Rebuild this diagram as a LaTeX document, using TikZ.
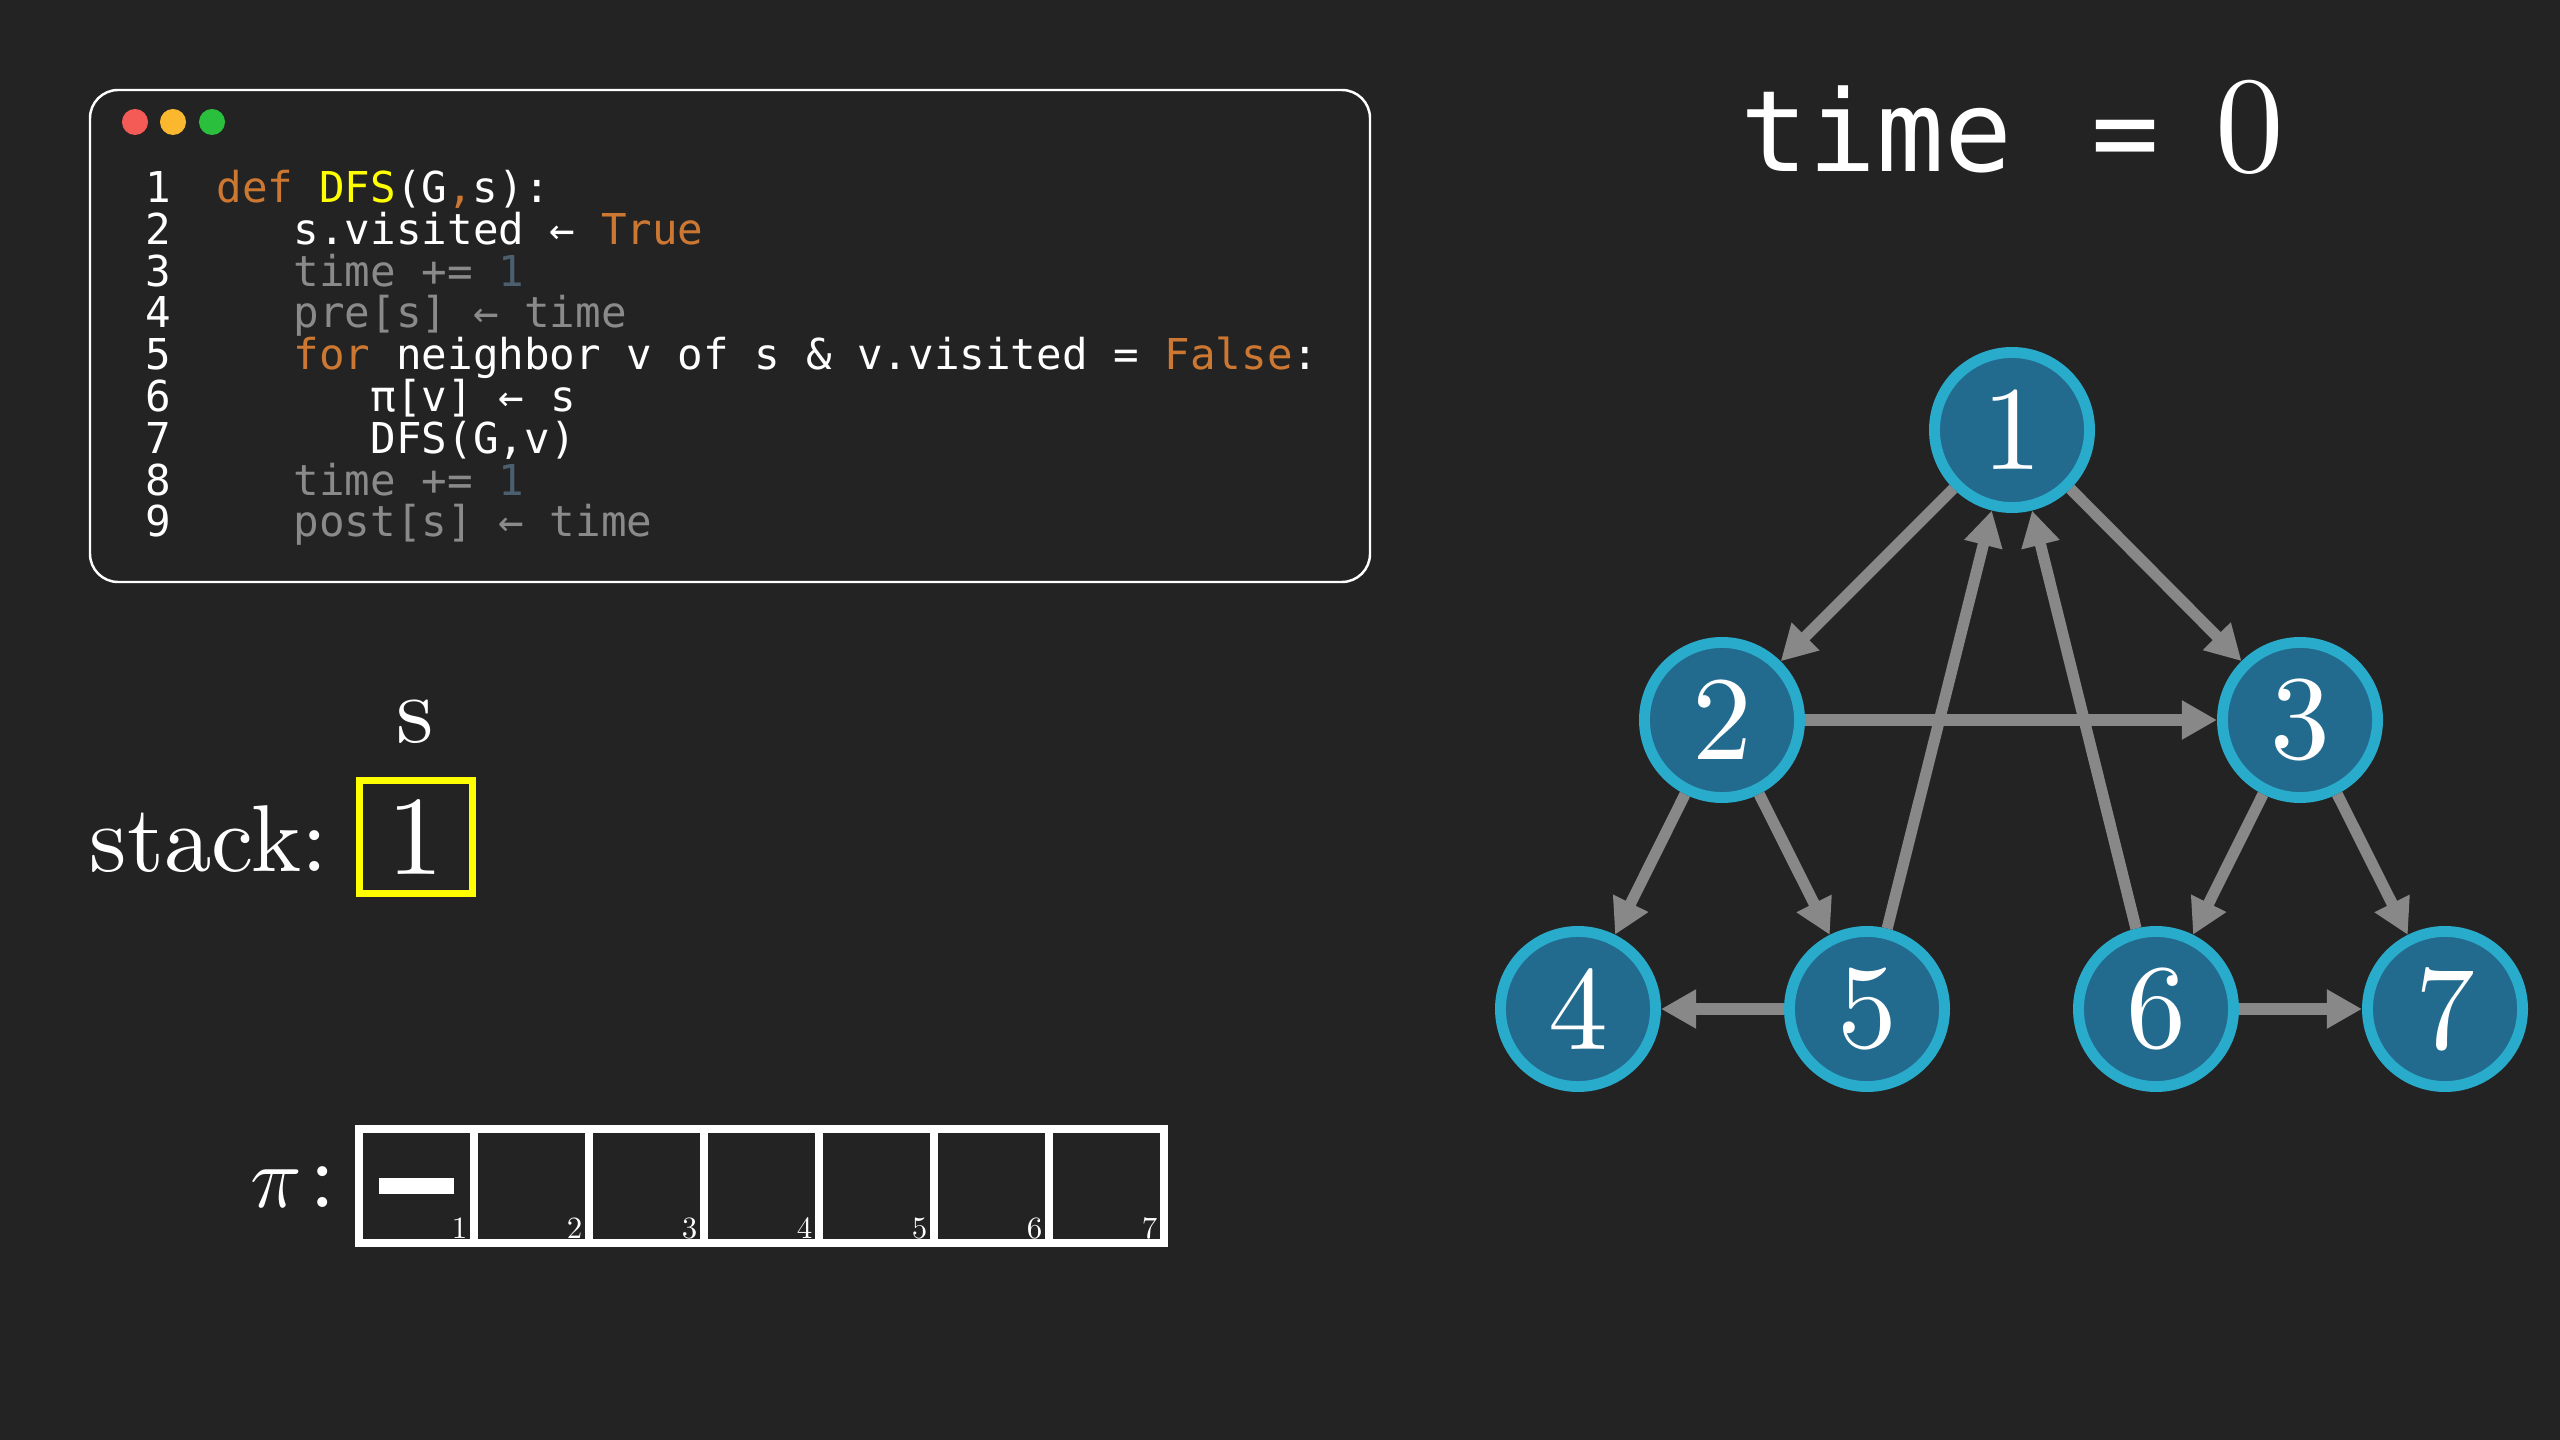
\documentclass[tikz,border=0pt]{standalone}
\usepackage{fontspec}
\setmainfont{lmroman10-regular.otf}[ItalicFont=lmroman10-italic.otf,BoldFont=lmroman10-bold.otf]
\setmonofont{DejaVu Sans Mono}
\usetikzlibrary{arrows.meta}
\definecolor{bg}{HTML}{232323}
\definecolor{kw}{HTML}{CC7832}
\definecolor{fn}{HTML}{FFFF00}
\definecolor{dim}{HTML}{8A8A8A}
\definecolor{dimnum}{HTML}{4B5F6E}
\definecolor{dotred}{HTML}{F45B56}
\definecolor{dotyel}{HTML}{FBB82E}
\definecolor{dotgrn}{HTML}{2AC03E}
\definecolor{nodefill}{HTML}{236B8E}
\definecolor{nodeedge}{HTML}{29ABCB}
\definecolor{edgegray}{HTML}{888888}
\definecolor{boxyel}{HTML}{FFFF00}
\newcommand\mycodefont{\ttfamily\fontsize{12.1}{14}\selectfont}
\begin{document}
\begin{tikzpicture}[x=0.01cm,y=-0.01cm,
  code/.style={anchor=base west, inner sep=0, text=white, font=\mycodefont},
  gnode/.style={circle, draw=nodeedge, fill=nodefill, line width=3.1pt, minimum size=44.1pt, inner sep=0, text=white, font=\fontsize{34}{40}\selectfont},
  edge/.style={draw=edgegray, line width=3.2pt, -{Triangle[length=10pt,width=10.5pt]}},
  cell/.style={draw=white, line width=2.28pt, minimum width=32.7pt, minimum height=32.4pt, inner sep=0},
  idx/.style={anchor=base east, inner sep=0, text=white, font=\fontsize{8.8}{10}\selectfont},
  big/.style={inner sep=0, text=white, font=\fontsize{27}{32}\selectfont}
]
\fill[bg] (0,0) rectangle (2560,1440);
\useasboundingbox (0,0) rectangle (2560,1440);

% code window
\draw[white, line width=0.7pt, rounded corners=8pt] (90,90) rectangle (1370,582);
\fill[dotred] (135,122) circle (0.13cm);
\fill[dotyel] (173,122) circle (0.13cm);
\fill[dotgrn] (212,122) circle (0.13cm);

\foreach \n [count=\i from 0] in {1,...,9}
  \node[code] (ln\n) at (145,{202.5+41.8*\i}) {\n};

\node[code] (l1) at (216,202.5) {\textcolor{kw}{def} \textcolor{fn}{DFS}(G\textcolor{kw}{,}s):};
\node[code] (l2) at (293,244.3) {s.visited ← \textcolor{kw}{True}};
\node[code, text=dim] (l3) at (293,286.1) {time += \textcolor{dimnum}{1}};
\node[code, text=dim] (l4) at (293,327.9) {pre[s] ← time};
\node[code] (l5) at (293,369.7) {\textcolor{kw}{for} neighbor v of s \& v.visited = \textcolor{kw}{False}:};
\node[code] (l6) at (370,411.5) {π[v] ← s};
\node[code] (l7) at (370,453.3) {DFS(G,v)};
\node[code, text=dim] (l8) at (293,495.1) {time += \textcolor{dimnum}{1}};
\node[code, text=dim] (l9) at (293,536.9) {post[s] ← time};

% time label
\node[anchor=base west, inner sep=0, text=white, font=\ttfamily\fontsize{32.1}{38}\selectfont] (tlabel) at (1740,172) {time \kern3pt= };
\node[anchor=base west, inner sep=0, text=white, font=\fontsize{39}{46}\selectfont] (tval) at (2215,172) {0};

% stack
\node[big, anchor=base west] (stacklbl) at (89,872) {stack:};
\node[draw=boxyel, line width=2pt, minimum width=32.4pt, minimum height=32.4pt, inner sep=0, text=white, font=\fontsize{32}{38}\selectfont] (top) at (416,837) {1};
\node[big, anchor=base] (slbl) at (415,743) {s};

% pi array
\node[big, anchor=base west] (pilbl) at (250,1207) {$\pi$\hspace{2pt}:};
\foreach \i in {1,...,7} {
  \node[cell] (c\i) at ({359+115*(\i-0.5)},1186) {};
  \node[idx] (k\i) at ({359+115*\i-6},1238) {\i};
}
\node[fill=white, minimum width=21.3pt, minimum height=4.55pt, inner sep=0] (dash) at (416.5,1186) {};

% graph
\node[gnode] (n1) at (2012,430) {1};
\node[gnode] (n2) at (1722,720) {2};
\node[gnode] (n3) at (2300,720) {3};
\node[gnode] (n4) at (1578,1009) {4};
\node[gnode] (n5) at (1867,1009) {5};
\node[gnode] (n6) at (2156,1009) {6};
\node[gnode] (n7) at (2445,1009) {7};

\draw[edge] (n1) -- (n2);
\draw[edge] (n1) -- (n3);
\draw[edge] (n2) -- (n3);
\draw[edge] (n2) -- (n4);
\draw[edge] (n2) -- (n5);
\draw[edge] (n5) -- (n1);
\draw[edge] (n6) -- (n1);
\draw[edge] (n3) -- (n6);
\draw[edge] (n3) -- (n7);
\draw[edge] (n5) -- (n4);
\draw[edge] (n6) -- (n7);
\end{tikzpicture}
\end{document}
